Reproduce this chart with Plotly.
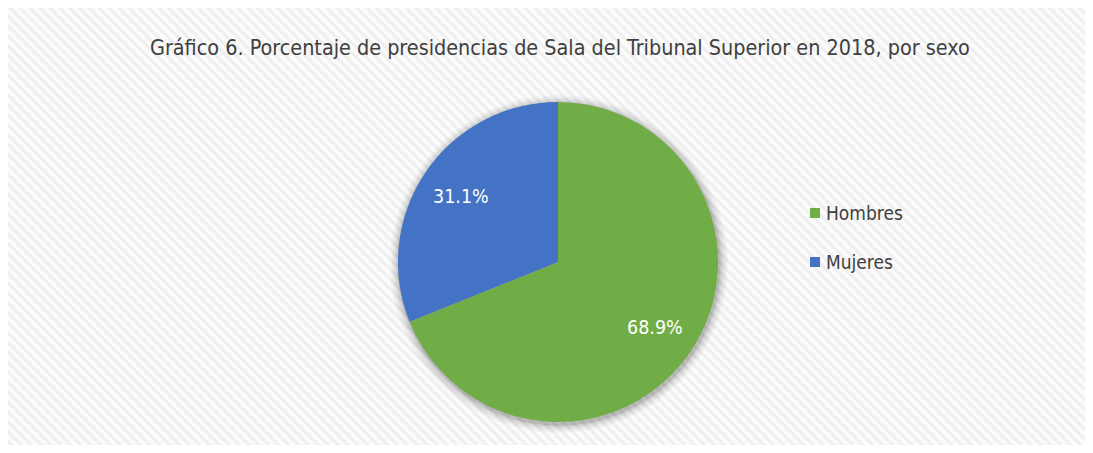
import base64
import math
import plotly.graph_objects as go

# ---- data ----
categories = ["Hombres", "Mujeres"]
values = [68.9, 31.1]
colors = ["#70AD47", "#4472C4"]
title_text = "Gráfico 6. Porcentaje de presidencias de Sala del Tribunal Superior en 2018, por sexo"

# page has an 8px body margin; compensate so the picture lines up with the window
OFF = 8
W, H = 1093 - 2 * OFF, 453 - 2 * OFF
FONT = "DejaVu Sans Condensed, Liberation Sans Narrow, sans-serif"


def px(x):
    return x - OFF


# pie geometry (window pixels)
cx, cy, r = 558, 262, 160

fig = go.Figure()
fig.add_trace(go.Pie(
    labels=categories,
    values=values,
    marker=dict(colors=colors, line=dict(width=0)),
    sort=False,
    direction="clockwise",
    rotation=0,
    textinfo="none",
    hoverinfo="label+percent",
    showlegend=False,
    domain=dict(x=[px(cx - r) / W, px(cx + r) / W], y=[1 - px(cy + r) / H, 1 - px(cy - r) / H]),
))

# background striped pattern
svg = f'''<svg xmlns="http://www.w3.org/2000/svg" width="{W}" height="{H}">
<defs><pattern id="p" width="7" height="7" patternUnits="userSpaceOnUse" patternTransform="rotate(-45)">
<rect width="7" height="7" fill="#fbfbfb"/><rect width="3" height="7" fill="#efefef"/></pattern></defs>
<rect x="0" y="0" width="{W}" height="{H}" fill="url(#p)"/></svg>'''
src = "data:image/svg+xml;base64," + base64.b64encode(svg.encode()).decode()

shapes = []
# frame border
shapes.append(dict(type="rect", xref="x", yref="y", x0=px(6), y0=px(7), x1=W + 5, y1=H + 5,
                   line=dict(color="#d9d9d9", width=2), fillcolor="rgba(0,0,0,0)", layer="below"))
# soft shadow around pie
for k, op in [(9, 0.03), (7, 0.04), (5, 0.05), (3, 0.07), (1.5, 0.09)]:
    shapes.append(dict(type="circle", xref="x", yref="y",
                       x0=px(cx - r - k + 1), x1=px(cx + r + k + 1),
                       y0=px(cy - r - k + 2), y1=px(cy + r + k + 2),
                       line=dict(width=0), fillcolor=f"rgba(0,0,0,{op})", layer="below"))

annotations = []
# percentage labels placed along mid-angle of each slice
total = sum(values)
cum = 0.0
for v in values:
    mid = (cum + v / 2) / total * 2 * math.pi
    cum += v
    tx = cx + 0.73 * r * math.sin(mid)
    ty = cy - 0.73 * r * math.cos(mid)
    annotations.append(dict(x=px(tx), y=px(ty), xref="x", yref="y", text=f"{v:.1f}%", showarrow=False,
                            font=dict(family=FONT, size=19.5, color="white"),
                            xanchor="center", yanchor="middle"))

# legend (manual)
leg_x, leg_y0, leg_gap = 815, 213, 49
for i, (lab, col) in enumerate(zip(categories, colors)):
    y = leg_y0 + i * leg_gap
    shapes.append(dict(type="rect", xref="x", yref="y", x0=px(leg_x - 5), x1=px(leg_x + 5),
                       y0=px(y - 5), y1=px(y + 5), line=dict(width=0), fillcolor=col))
    annotations.append(dict(x=px(leg_x + 9), y=px(y), xref="x", yref="y", text=lab, showarrow=False,
                            font=dict(family=FONT, size=19, color="#404040"),
                            xanchor="left", yanchor="middle"))

# title
annotations.append(dict(x=px(560), y=px(47), xref="x", yref="y", text=title_text, showarrow=False,
                        font=dict(family=FONT, size=21.4, color="#404040"),
                        xanchor="center", yanchor="middle"))

fig.update_layout(
    width=W, height=H,
    margin=dict(l=0, r=0, t=0, b=0),
    paper_bgcolor="white",
    plot_bgcolor="rgba(0,0,0,0)",
    xaxis=dict(range=[0, W], visible=False, fixedrange=True),
    yaxis=dict(range=[H, 0], visible=False, fixedrange=True),
    images=[dict(source=src, xref="paper", yref="paper", x=0, y=1, sizex=1, sizey=1,
                 sizing="stretch", layer="below", xanchor="left", yanchor="top")],
    shapes=shapes,
    annotations=annotations,
    showlegend=False,
)

fig.write_html("out.html")
